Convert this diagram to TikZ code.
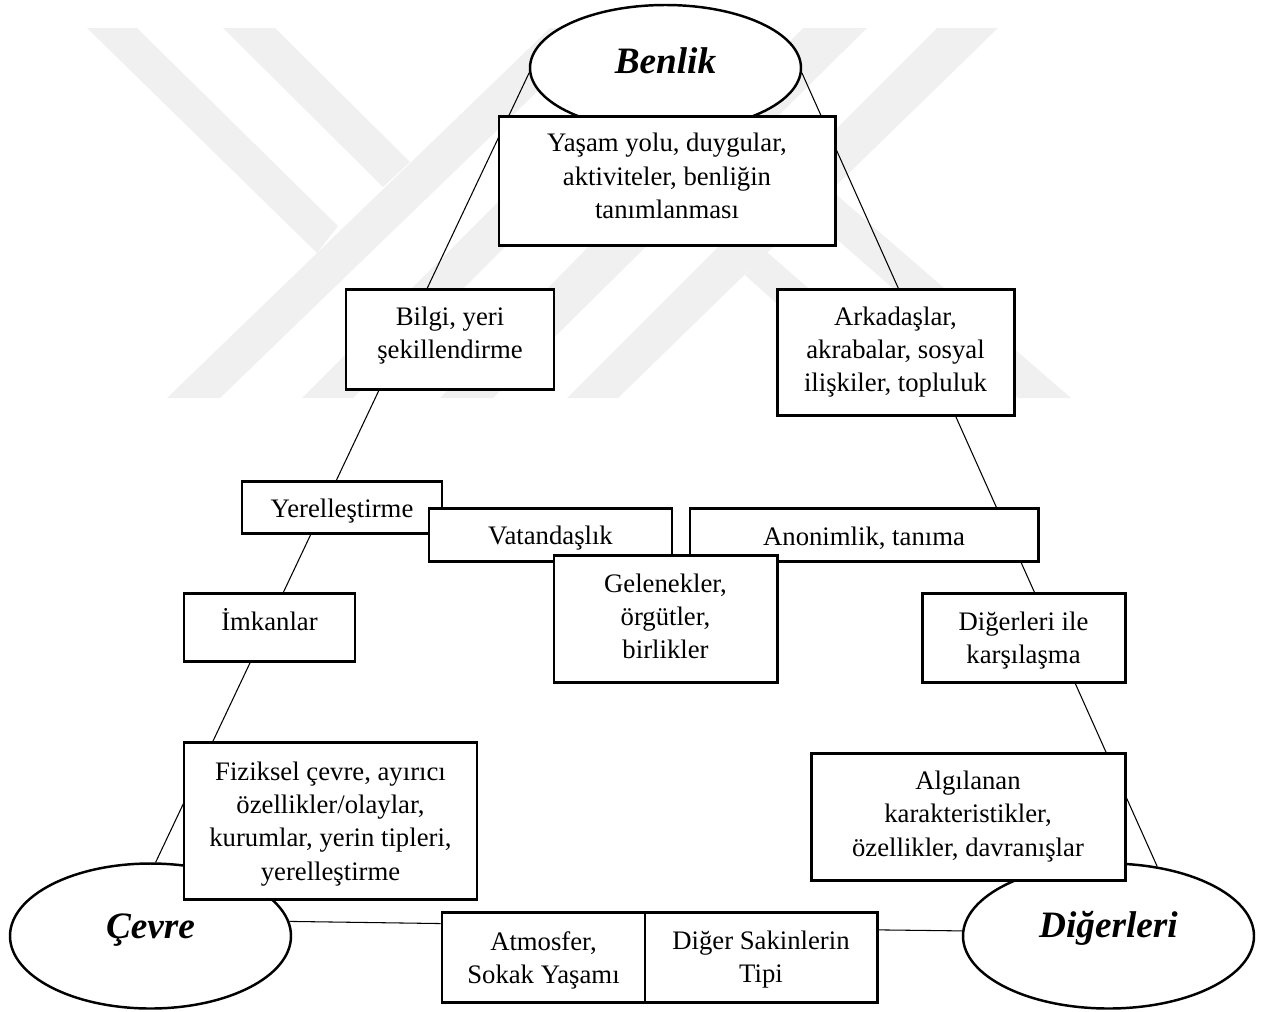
\documentclass[tikz,border=0pt]{standalone}
\usepackage{fontspec}
\setmainfont{Liberation Serif}
\usetikzlibrary{shapes.geometric,backgrounds}
\definecolor{wmGrey}{RGB}{240,240,240}
\newcommand{\txtlow}[1]{\rule{0pt}{#1}}
\newcommand{\txthigh}[1]{\rule[-#1]{0pt}{#1}}
\tikzset{
    infobox/.style={draw=black,fill=white,line width=1.7pt,align=center,inner sep=0pt,font=\fontsize{15.2}{18.9}\selectfont},
    themeoval/.style={ellipse,draw=black,fill=white,line width=1.4pt,align=center,inner sep=0pt,font=\fontsize{21.2}{24}\selectfont\bfseries\itshape},
    linkline/.style={draw=black,line width=0.6pt},
    wmband/.style={fill=wmGrey}
}

\begin{document}
\begin{tikzpicture}
    \useasboundingbox (0,0) rectangle (25.22,-20.22);
    % Theme ovals
    \node[themeoval,minimum width=5.42cm,minimum height=2.52cm] (benlik) at (13.31,-1.36) {Benlik\txthigh{9pt}};
    \node[themeoval,minimum width=5.62cm,minimum height=2.9cm] (cevre) at (3.01,-18.72) {Çevre\txthigh{11.3pt}};
    \node[themeoval,minimum width=5.82cm,minimum height=2.9cm] (digerleri) at (22.17,-18.72) {Diğerleri\txthigh{13.5pt}};
    % Boxes along the left side
    \node[infobox,minimum width=4.16cm,minimum height=2cm] (bilgi) at (9,-6.78) {Bilgi, yeri\\şekillendirme\txthigh{7.2pt}};
    \node[infobox,minimum width=4cm,minimum height=1.04cm] (yerel) at (6.84,-10.14) {\txtlow{15pt}Yerelleştirme};
    \node[infobox,minimum width=3.42cm,minimum height=1.36cm] (imkan) at (5.39,-12.54) {İmkanlar\txthigh{9pt}};
    \node[infobox,minimum width=5.86cm,minimum height=3.14cm] (fiziksel) at (6.61,-16.41) {\txtlow{14.4pt}Fiziksel çevre, ayırıcı\\özellikler/olaylar,\\kurumlar, yerin tipleri,\\yerelleştirme};
    % Boxes along the right side
    \node[infobox,minimum width=6.72cm,minimum height=2.58cm] (yasam) at (13.34,-3.61) {Yaşam yolu, duygular,\\aktiviteler, benliğin\\tanımlanması\txthigh{5.3pt}};
    \node[infobox,minimum width=4.74cm,minimum height=2.52cm] (arkadas) at (17.91,-7.04) {Arkadaşlar,\\akrabalar, sosyal\\ilişkiler, topluluk};
    \node[infobox,minimum width=6.96cm,minimum height=1.06cm] (anonim) at (17.28,-10.69) {\txtlow{15pt}Anonimlik, tanıma};
    \node[infobox,minimum width=4.06cm,minimum height=1.78cm] (karsilasma) at (20.47,-12.75) {\txtlow{13.8pt}Diğerleri ile\\karşılaşma};
    \node[infobox,minimum width=6.28cm,minimum height=2.54cm] (algi) at (19.36,-16.33) {Algılanan\\karakteristikler,\\özellikler, davranışlar};
    % Middle and bottom boxes
    \node[infobox,minimum width=4.86cm,minimum height=1.06cm] (vatan) at (11.01,-10.69) {\txtlow{15pt}Vatandaşlık};
    \node[infobox,minimum width=4.46cm,minimum height=2.54cm] (gelenek) at (13.31,-12.37) {Gelenekler,\\örgütler,\\birlikler\txthigh{2.5pt}};
    \node[infobox,minimum width=4.06cm,minimum height=1.8cm] (atmosfer) at (10.87,-19.14) {\txtlow{15pt}Atmosfer,\\Sokak Yaşamı};
    \node[infobox,minimum width=4.64cm,minimum height=1.8cm] (sakin) at (15.22,-19.14) {\txtlow{13.2pt}Diğer Sakinlerin\\Tipi};
    \begin{scope}[on background layer]
        % Watermark bands
        \fill[wmband] (1.74,-0.56) -- (2.74,-0.56) -- (6.76,-4.52) -- (6.34,-5.06) -- cycle;
        \fill[wmband] (4.46,-0.56) -- (5.5,-0.56) -- (8.2,-3.24) -- (7.66,-3.74) -- cycle;
        \fill[wmband] (11,-0.56) -- (12.06,-0.56) -- (4.4,-7.96) -- (3.34,-7.96) -- cycle;
        \fill[wmband] (13.06,-2) -- (12,-2) -- (6.04,-7.96) -- (7.06,-7.96) -- cycle;
        \fill[wmband] (16.06,-0.56) -- (17.34,-0.56) -- (9.86,-7.96) -- (8.8,-7.96) -- cycle;
        \fill[wmband] (18.74,-0.56) -- (19.96,-0.56) -- (12.36,-7.96) -- (11.34,-7.96) -- cycle;
        \fill[wmband] (17.62,-7.96) -- (18.68,-7.96) -- (15.34,-5.04) -- (14.9,-5.5) -- cycle;
        \fill[wmband] (20.36,-7.96) -- (21.42,-7.96) -- (16.62,-3.8) -- (16.15,-4.27) -- cycle;
        % Links between the three ovals
        \draw[linkline] (benlik.182) -- (cevre.86);
        \draw[linkline] (benlik.-2) -- (digerleri.55);
        \draw[linkline] (cevre.6) -- (atmosfer.162);
        \draw[linkline] (sakin.13) -- (digerleri.178);
    \end{scope}
\end{tikzpicture}
\end{document}
